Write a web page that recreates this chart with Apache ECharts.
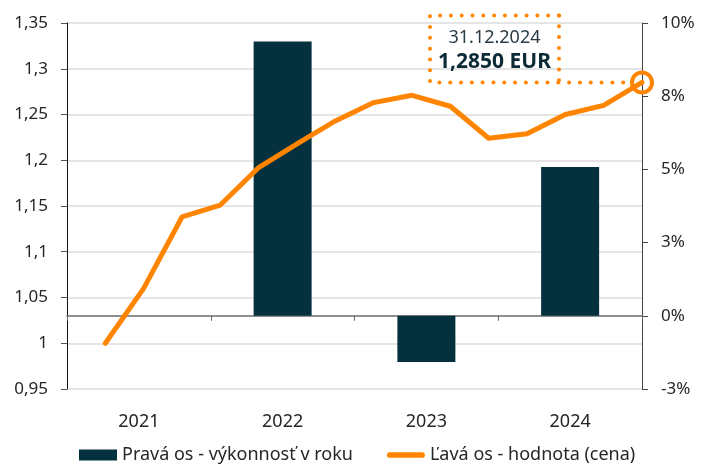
<!DOCTYPE html>
<html>
<head>
<meta charset="utf-8">
<script src="https://cdn.jsdelivr.net/npm/echarts@6/dist/echarts.min.js"></script>
<style>
  html, body { margin: 0; padding: 0; background: #fff; }
  #chart { width: 701px; height: 464px; }
</style>
</head>
<body>
<div id="chart"></div>
<script>
// years for the bars (right axis, %)
var years = ['2021', '2022', '2023', '2024'];
var yearPerf = [null, 9.37, -1.58, 5.08];

// quarter ends for the price line (left axis, EUR)
var quarters = ['30.09.2020', '31.12.2020', '31.03.2021', '30.06.2021', '30.09.2021', '31.12.2021',
  '31.03.2022', '30.06.2022', '30.09.2022', '31.12.2022', '31.03.2023', '30.06.2023',
  '30.09.2023', '31.12.2023', '30.06.2024', '31.12.2024'];
var price = [null, 1.000, 1.060, 1.138, 1.151, 1.192, 1.218, 1.243, 1.263, 1.271,
  1.259, 1.224, 1.229, 1.250, 1.260, 1.285];

var lastLabel = '31.12.2024';
var lastValue = '1,2850 EUR';

var orange = '#ff8500';
var navy = '#05313e';
var font = 'Noto Sans';
var txt = '#262626';

// thick rounded line for the legend (tiny dots keep the box 40x11)
var lineIcon = 'path://M0,0L0.01,0L0.01,0.01ZM40,11L39.99,11L39.99,10.99Z' +
  'M3,2.5L37,2.5A3,3 0 0 1 37,8.5L3,8.5A3,3 0 0 1 3,2.5Z';

var lineData = price.map(function (v, i) {
  if (i === price.length - 1) {
    return {
      value: v,
      symbol: 'circle',
      symbolSize: 20,
      itemStyle: { color: 'rgba(0,0,0,0)', borderColor: orange, borderWidth: 4 }
    };
  }
  return v;
});

var chart = echarts.init(document.getElementById('chart'));

chart.setOption({
  animation: false,
  textStyle: { fontFamily: font },
  grid: { left: 67, right: 59, top: 23, bottom: 75 },
  legend: {
    left: 79,
    top: 446,
    padding: 0,
    itemWidth: 38,
    itemHeight: 11,
    itemGap: 34,
    textStyle: { color: txt, fontSize: 18, fontFamily: font },
    data: [
      { name: 'Pravá os - výkonnosť v roku', icon: 'rect' },
      { name: 'Ľavá os - hodnota (cena)', icon: lineIcon, itemStyle: { color: orange, borderWidth: 0 } }
    ]
  },
  xAxis: [{
    // zero line with ticks
    type: 'category',
    data: years,
    axisLine: { onZero: true, onZeroAxisIndex: 1, lineStyle: { color: '#6b6b6b', width: 1.5 } },
    axisTick: { show: true, length: 5, lineStyle: { color: '#6b6b6b' } },
    axisLabel: { show: false },
    splitLine: { show: false }
  }, {
    // labels at bottom
    type: 'category',
    data: years,
    position: 'bottom',
    axisLine: { show: false, onZero: false },
    axisTick: { show: false },
    axisLabel: { color: txt, fontSize: 18, margin: 24 }
  }, {
    type: 'category',
    data: quarters,
    boundaryGap: false,
    show: false
  }],
  yAxis: [{
    type: 'value',
    min: 0.95,
    max: 1.35,
    interval: 0.05,
    axisLine: { show: true, lineStyle: { color: '#111' } },
    axisTick: { show: true, length: 6, lineStyle: { color: '#555' } },
    axisLabel: {
      color: txt,
      fontSize: 17,
      margin: 19,
      formatter: function (v) { return String(Math.round(v * 100) / 100).replace('.', ','); }
    },
    splitLine: { show: true, lineStyle: { color: '#dcdcdc', width: 1.5 } }
  }, {
    type: 'value',
    min: -2.5,
    max: 10,
    interval: 2.5,
    position: 'right',
    axisLine: { show: true, lineStyle: { color: '#444' } },
    axisTick: { show: true, length: 6, lineStyle: { color: '#444' } },
    axisLabel: {
      color: txt,
      fontSize: 17,
      margin: 19,
      formatter: function (v) { return (v < 0 ? '-' : '') + Math.round(Math.abs(v)) + '%'; }
    },
    splitLine: { show: false }
  }],
  series: [{
    name: 'Pravá os - výkonnosť v roku',
    type: 'bar',
    xAxisIndex: 0,
    yAxisIndex: 1,
    barWidth: 58,
    itemStyle: { color: navy },
    data: yearPerf
  }, {
    name: 'Ľavá os - hodnota (cena)',
    type: 'line',
    xAxisIndex: 2,
    yAxisIndex: 0,
    symbol: 'none',
    showSymbol: true,
    lineStyle: { color: orange, width: 5, cap: 'round', join: 'round' },
    itemStyle: { color: orange },
    z: 5,
    data: lineData
  }]
});

// annotation box anchored to the last price point
var last = price.length - 1;
var pt = chart.convertToPixel({ seriesIndex: 1 }, [last, price[last]]);
var boxR = pt[0] - 83, boxL = boxR - 129, boxB = pt[1], boxT = pt[1] - 67;
var dotStyle = { stroke: orange, lineWidth: 4, lineDash: [0.01, 10.8], lineCap: 'round', fill: null };

chart.setOption({
  graphic: [{
    type: 'polyline',
    shape: { points: [[boxR, boxT], [boxL, boxT], [boxL, boxB], [pt[0] - 11, boxB]] },
    style: dotStyle,
    z: 10
  }, {
    type: 'line',
    shape: { x1: boxR, y1: boxT, x2: boxR, y2: boxB },
    style: dotStyle,
    z: 10
  }, {
    type: 'text',
    x: (boxL + boxR) / 2,
    y: boxT + 22,
    style: {
      text: lastLabel, fill: '#2a3d47', font: '18px "Noto Sans"',
      align: 'center', verticalAlign: 'middle'
    },
    z: 10
  }, {
    type: 'text',
    x: (boxL + boxR) / 2,
    y: boxT + 47,
    style: {
      text: lastValue, fill: '#0b2a36', font: 'bold 21px "Noto Sans"',
      align: 'center', verticalAlign: 'middle'
    },
    z: 10
  }]
});
</script>
</body>
</html>
